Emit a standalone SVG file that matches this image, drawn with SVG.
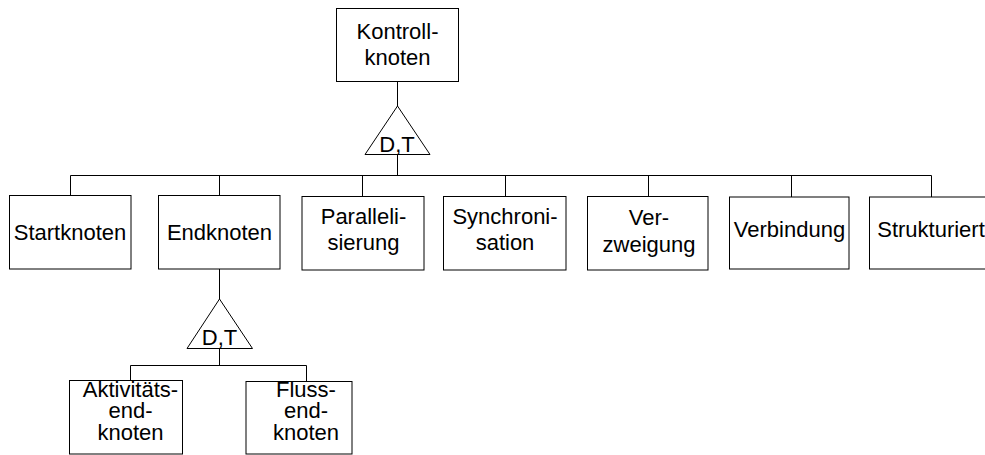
<svg xmlns="http://www.w3.org/2000/svg" width="985" height="455" viewBox="0 0 985 455">
<style>
.box{fill:#fff;stroke:#000;stroke-width:1}
.tri{fill:#fff;stroke:#000;stroke-width:1}
.ln{fill:none;stroke:#000;stroke-width:1}
text{font-family:"Liberation Sans",Arial,sans-serif;font-size:22px;fill:#000;text-anchor:middle}
</style>
<rect width="985" height="455" fill="#fff"/>
<g id="connectors">
<path class="ln" d="M397.5 82V106"/>
<path class="ln" d="M397.5 154V175.5"/>
<path class="ln" d="M70.5 196V175.5H931.5V197"/>
<path class="ln" d="M219.5 175.5V195"/>
<path class="ln" d="M362.5 175.5V196"/>
<path class="ln" d="M505.5 175.5V196"/>
<path class="ln" d="M648.5 175.5V196"/>
<path class="ln" d="M791.5 175.5V197"/>
<path class="ln" d="M219.5 269V299"/>
<path class="ln" d="M219.5 348V365.5"/>
<path class="ln" d="M130.5 380V365.5H306.5V381"/>
</g>
<g id="kontrollknoten">
<rect class="box" x="336.5" y="8.5" width="122" height="73"/>
<text x="397.5" y="39">Kontroll-</text>
<text x="397.5" y="65">knoten</text>
</g>
<g id="gen1">
<polygon class="tri" points="397.5,106 365,154.5 430,154.5"/>
<text x="397" y="151.5">D,T</text>
</g>
<g id="startknoten">
<rect class="box" x="9.5" y="195.5" width="121.5" height="73.5"/>
<text x="70" y="240">Startknoten</text>
</g>
<g id="endknoten">
<rect class="box" x="158.5" y="195.5" width="121.5" height="73.5"/>
<text x="219.5" y="240">Endknoten</text>
</g>
<g id="parallelisierung">
<rect class="box" x="302" y="196.5" width="122" height="73.5"/>
<text x="363.5" y="223.5">Paralleli-</text>
<text x="363.5" y="250">sierung</text>
</g>
<g id="synchronisation">
<rect class="box" x="443.5" y="196.5" width="122.5" height="73.5"/>
<text x="505" y="223.5">Synchroni-</text>
<text x="505" y="250">sation</text>
</g>
<g id="verzweigung">
<rect class="box" x="587.5" y="196.5" width="120.5" height="73.5"/>
<text x="649" y="225">Ver-</text>
<text x="649" y="251.5">zweigung</text>
</g>
<g id="verbindung">
<rect class="box" x="729.5" y="197" width="119.5" height="72"/>
<text x="789.5" y="237">Verbindung</text>
</g>
<g id="strukturiert">
<rect class="box" x="869.5" y="197" width="122" height="72"/>
<text x="931" y="237">Strukturiert</text>
</g>
<g id="gen2">
<polygon class="tri" points="219.5,299 187,348.5 252.5,348.5"/>
<text x="219.5" y="345">D,T</text>
</g>
<g id="aktivitaetsendknoten">
<rect class="box" x="69.5" y="380.5" width="113" height="73.5"/>
<text x="130.5" y="396.5">Aktivitäts-</text>
<text x="130.5" y="418">end-</text>
<text x="130.5" y="440">knoten</text>
</g>
<g id="flussendknoten">
<rect class="box" x="246" y="381.5" width="106" height="72.5"/>
<text x="306" y="396.5">Fluss-</text>
<text x="306" y="418">end-</text>
<text x="306" y="440">knoten</text>
</g>
</svg>
